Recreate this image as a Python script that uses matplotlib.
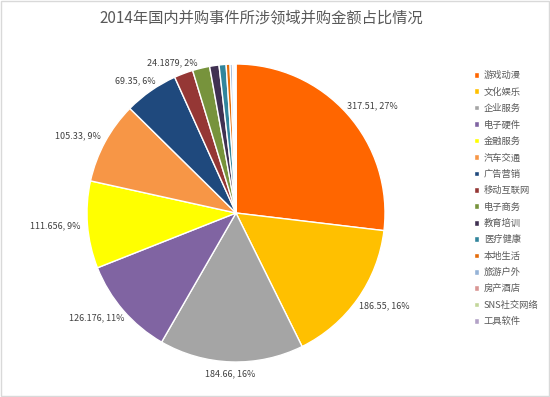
import numpy as np
import matplotlib.pyplot as plt
from matplotlib.patches import Rectangle

plt.rcParams['font.family'] = ['Noto Sans CJK SC', 'DejaVu Sans']

# ----------------------------
# Data
# ----------------------------
categories = ["游戏动漫", "文化娱乐", "企业服务", "电子硬件", "金融服务", "汽车交通",
              "广告营销", "移动互联网", "电子商务", "教育培训", "医疗健康", "本地生活",
              "旅游户外", "房产酒店", "SNS社交网络", "工具软件"]
values = [317.51, 186.55, 184.66, 126.176, 111.656, 105.33,
          69.35, 24.1879, 22.0, 12.0, 9.0, 5.0,
          3.0, 2.0, 1.5, 1.0]
value_text = ["317.51", "186.55", "184.66", "126.176", "111.656", "105.33",
              "69.35", "24.1879"]
colors = ["#FF6600", "#FFC000", "#A5A5A5", "#8064A2", "#FFFF00", "#F79646",
          "#1F497D", "#953735", "#77933C", "#403152", "#31859C", "#E46C0A",
          "#95B3D7", "#D99694", "#C3D69B", "#B3A2C7"]

title = "2014年国内并购事件所涉领域并购金额占比情况"

# ----------------------------
# Figure
# ----------------------------
W, H = 550, 397
fig = plt.figure(figsize=(W / 100, H / 100), dpi=100)
fig.patches.append(Rectangle((0.002, 0.002), 0.996, 0.996, transform=fig.transFigure,
                             fill=False, edgecolor="#D9D9D9", linewidth=1))

total = sum(values)
labels = []
for i, v in enumerate(values):
    if i < len(value_text):
        labels.append(f"{value_text[i]}, {round(v / total * 100):.0f}%")
    else:
        labels.append("")

cx, cy, r = 236, 213, 149
ax = fig.add_axes([(cx - r) / W, 1 - (cy + r) / H, 2 * r / W, 2 * r / H])
wedges, texts = ax.pie(values, colors=colors, labels=labels, startangle=90,
                       counterclock=False, labeldistance=1.05,
                       wedgeprops=dict(edgecolor="white", linewidth=1.0),
                       textprops=dict(fontsize=6.5, color="#404040"))
ax.set_xlim(-1, 1)
ax.set_ylim(-1, 1)
ax.set_aspect("equal")

# push each label outward so its box sits just outside the wedge (Excel "outside end")
fig.canvas.draw()
renderer = fig.canvas.get_renderer()
for w, t in zip(wedges, texts):
    if not t.get_text():
        continue
    t.set_ha("center")
    t.set_va("center")
    ang = np.deg2rad((w.theta1 + w.theta2) / 2)
    dx, dy = np.cos(ang), np.sin(ang)
    bb = t.get_window_extent(renderer)
    px, py = ax.transData.transform(t.get_position())
    px += dx * bb.width / 2
    py += dy * bb.height / 2
    t.set_position(ax.transData.inverted().transform((px, py)))

fig.text(261 / W, 1 - 18 / H, title, ha="center", va="center", fontsize=11, color="#595959")

fig.legend(wedges, categories, loc="upper left", bbox_to_anchor=(474 / W, 1 - 71 / H),
           frameon=False, fontsize=6.7, handlelength=0.55, handleheight=0.55,
           handletextpad=0.5, labelspacing=0.78, borderpad=0, borderaxespad=0,
           labelcolor="#595959")

fig.savefig("out.png", dpi=100)
